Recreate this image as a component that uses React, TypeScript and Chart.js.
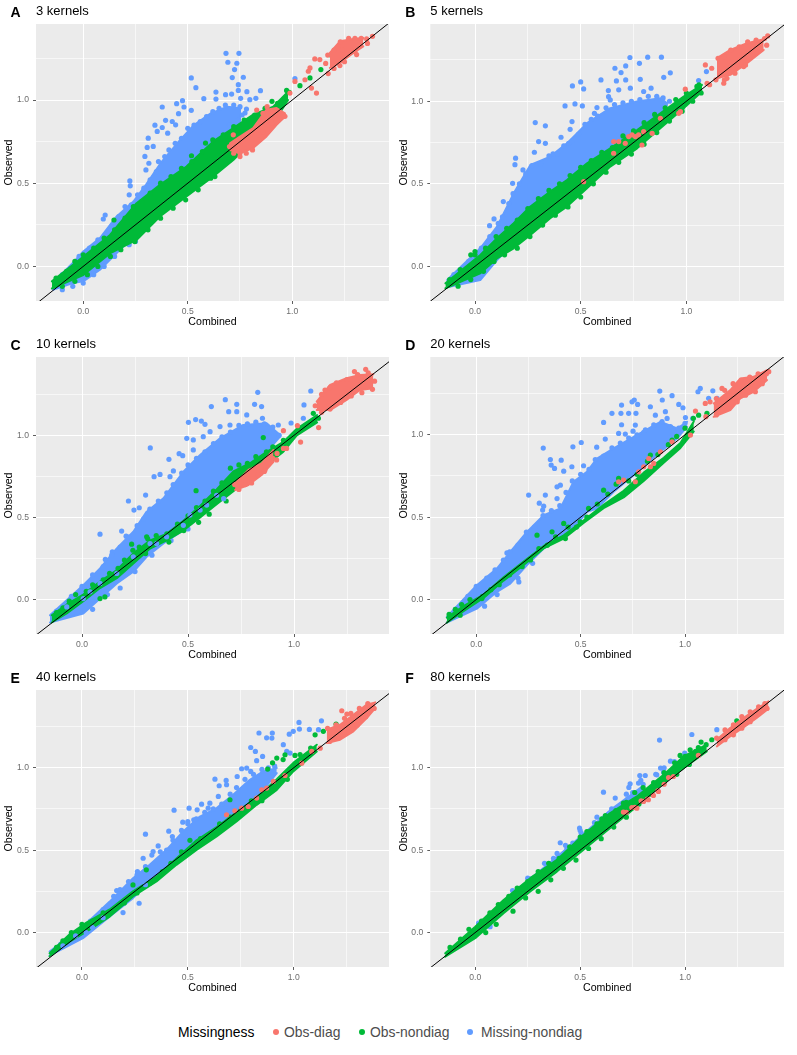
import React, { useEffect, useRef } from "react";
import { Chart, registerables } from "chart.js";

Chart.register(...registerables);

const majorTicks = [0, 0.5, 1];
const minorTicks = [0.25, 0.75, 1.25];
const legendLabels = ["Obs-diag", "Obs-nondiag", "Missing-nondiag"];
const RED = "#F8766D";
const GREEN = "#00BA38";
const BLUE = "#619CFF";

// Dense parts of each cloud: [combined, observed upper edge, observed lower edge]
// Dots: [combined, observed]; "Rim" lists are the dots read along a cloud's edges
const aBlueBand = [[-0.145,-0.1,-0.14],[-0.05,0.02,-0.1],[0,0.09,-0.09],[0.08,0.17,-0.02],[0.16,0.3,0.08],[0.24,0.39,0.18],[0.3,0.49,0.26],[0.37,0.62,0.34],[0.45,0.74,0.43],[0.53,0.85,0.52],[0.61,0.92,0.62],[0.69,0.96,0.7],[0.755,0.95,0.85]];
const aGreenBand = [[-0.15,-0.09,-0.133],[0,0.058,-0.052],[0.128,0.189,0.078],[0.255,0.38,0.159],[0.367,0.49,0.3],[0.494,0.6,0.42],[0.622,0.751,0.54],[0.718,0.831,0.64],[0.813,0.912,0.76],[0.909,0.96,0.861],[0.98,1.05,1.0]];
const aRedBands = [[[0.702,0.739,0.7],[0.75,0.78,0.68],[0.813,0.831,0.711],[0.877,0.942,0.781],[0.925,0.952,0.851],[0.965,0.92,0.9]],[[1.18,1.283,1.193],[1.228,1.353,1.223],[1.292,1.367,1.283],[1.34,1.373,1.323]]];
const aBlue = [[0.683,1.281],[0.745,1.281],[0.692,1.227],[0.735,1.221],[0.724,1.183],[0.713,1.135],[0.766,1.137],[0.517,1.133],[0.539,1.074],[0.742,1.092],[0.742,1.058],[0.783,1.05],[0.848,1.056],[0.635,1.048],[0.681,1.032],[0.71,1.036],[0.635,1.006],[0.577,1.008],[0.797,1.002],[0.826,1.01],[0.753,1.01],[0.475,0.996],[0.447,0.978],[0.378,0.958],[0.482,0.958],[0.517,0.938],[0.456,0.918],[0.394,0.878],[0.426,0.871],[0.343,0.849],[0.442,0.851],[0.378,0.835],[0.354,0.811],[0.404,0.801],[0.311,0.771],[0.335,0.721],[0.306,0.715],[0.295,0.661],[0.314,0.62],[0.3,0.58],[0.223,0.514],[0.225,0.484],[0.22,0.43],[0.105,0.309],[0.096,0.285],[0.781,0.946],[0.774,0.922],[1.013,1.129]];
const aBlueRim = [[-0.1,-0.05],[-0.06,-0.01],[-0.02,0.06],[0.03,0.11],[0.07,0.16],[0.11,0.19],[0.14,0.25],[0.17,0.3],[0.2,0.36],[0.23,0.37],[0.26,0.43],[0.29,0.47],[0.32,0.52],[0.35,0.57],[0.36,0.63],[0.39,0.66],[0.41,0.7],[0.44,0.74],[0.47,0.77],[0.5,0.83],[0.53,0.85],[0.56,0.87],[0.59,0.9],[0.62,0.93],[0.65,0.95],[0.68,0.97],[0.72,0.97],[0.75,0.96],[0.76,0.91],[0.74,0.88],[0.7,0.85],[-0.1,-0.14],[-0.05,-0.12],[0,-0.1],[0.05,-0.05],[0.1,0],[0.15,0.06],[0.22,0.13],[0.25,0.15]];
const aGreen = [[0.147,0.279],[0.518,0.665],[0.585,0.741],[0.903,0.992],[0.973,1.058],[0.986,1.046],[1.037,1.086],[1.085,1.133],[1.137,1.183],[1.191,1.263],[0.247,0.149],[0.63,0.54]];
const aGreenRim = [[-0.13,-0.07],[-0.08,-0.03],[-0.04,0.03],[0,0.07],[0.05,0.11],[0.1,0.17],[0.15,0.22],[0.2,0.29],[0.24,0.36],[0.28,0.39],[0.32,0.44],[0.37,0.5],[0.42,0.54],[0.47,0.59],[0.52,0.63],[0.57,0.69],[0.62,0.76],[0.67,0.79],[0.72,0.84],[0.77,0.88],[0.82,0.91],[0.87,0.95],[0.93,0.98],[-0.1,-0.12],[-0.04,-0.09],[0.02,-0.05],[0.07,0],[0.13,0.06],[0.18,0.1],[0.25,0.17],[0.31,0.22],[0.37,0.29],[0.43,0.35],[0.49,0.4],[0.55,0.46],[0.61,0.53],[0.66,0.6],[0.7,0.64],[0.74,0.72]];
const aRed = [[1.384,1.383],[1.356,1.367],[1.308,1.273],[1.228,1.207],[1.172,1.159],[1.116,1.042],[1.092,1.072],[1.132,1.243],[1.108,1.247],[1.085,1.193],[1.077,1.173],[1.061,1.122],[1.013,1.112],[0.957,0.912],[0.965,0.902],[0.901,0.861],[0.75,0.681],[0.718,0.791],[0.989,1.042]];
const aRedRim = [[0.7,0.72],[0.72,0.68],[0.75,0.66],[0.78,0.68],[0.81,0.7],[0.84,0.76],[0.86,0.81],[0.88,0.85],[0.9,0.88],[0.86,0.92],[0.83,0.94],[0.88,0.96],[1.17,1.27],[1.2,1.3],[1.23,1.35],[1.27,1.37],[1.3,1.37],[1.33,1.37],[1.36,1.34],[1.3,1.29],[1.25,1.23],[1.2,1.19],[1.24,1.3],[1.16,1.22]];

const bBlueBand = [[-0.132,-0.083,-0.127],[0.025,0.109,-0.083],[0.104,0.24,0.038],[0.183,0.442,0.139],[0.262,0.614,0.22],[0.356,0.665,0.321],[0.435,0.745,0.402],[0.53,0.867,0.584],[0.64,0.958,0.705],[0.767,0.998,0.806],[0.877,1.018,0.917],[0.909,0.988,0.978]];
const bGreenBand = [[-0.14,-0.103,-0.133],[0.025,0.069,-0.042],[0.104,0.17,0.048],[0.183,0.261,0.109],[0.262,0.362,0.19],[0.356,0.453,0.291],[0.435,0.523,0.362],[0.53,0.624,0.473],[0.64,0.715,0.604],[0.767,0.826,0.715],[0.877,0.927,0.836],[0.987,1.028,0.958],[1.074,1.099,1.059]];
const bRedBands = [[[1.145,1.261,1.139],[1.208,1.311,1.16],[1.287,1.352,1.23],[1.366,1.376,1.311]]];
const bBlue = [[0.733,1.265],[0.882,1.267],[0.817,1.267],[0.778,1.23],[0.713,1.214],[0.662,1.2],[0.691,1.174],[0.924,1.172],[0.893,1.145],[0.596,1.129],[0.782,1.133],[0.713,1.129],[0.669,1.123],[0.5,1.117],[0.461,1.093],[0.514,1.075],[0.631,1.065],[0.68,1.069],[0.735,1.079],[0.798,1.059],[0.833,1.079],[0.632,1.028],[0.64,1.008],[0.426,0.972],[0.473,0.984],[0.508,0.972],[0.577,0.962],[0.565,0.927],[0.285,0.871],[0.333,0.851],[0.459,0.877],[0.45,0.83],[0.407,0.782],[0.301,0.756],[0.333,0.745],[0.443,0.745],[0.369,0.681],[0.281,0.691],[0.192,0.655],[0.189,0.616],[0.227,0.584],[0.178,0.503],[0.134,0.392],[0.09,0.287],[0.069,0.246],[1.058,1.125],[1.095,1.18]];
const bBlueRim = [[-0.1,-0.05],[-0.03,0.03],[0.03,0.11],[0.07,0.18],[0.11,0.26],[0.13,0.3],[0.16,0.38],[0.18,0.44],[0.21,0.5],[0.24,0.56],[0.27,0.61],[0.31,0.62],[0.35,0.67],[0.39,0.68],[0.42,0.73],[0.46,0.76],[0.49,0.8],[0.52,0.86],[0.55,0.89],[0.58,0.91],[0.62,0.96],[0.66,0.98],[0.7,0.99],[0.74,1],[0.78,1.01],[0.82,1.03],[0.86,1.03],[0.89,1.02],[0.92,1]];
const bGreen = [[0,0.09],[-0.02,0.07],[1.06,1.1],[0.98,0.96]];
const bGreenRim = [[-0.12,-0.08],[-0.07,-0.02],[0,0.07],[0.05,0.11],[0.1,0.18],[0.15,0.23],[0.2,0.28],[0.25,0.35],[0.3,0.41],[0.35,0.46],[0.4,0.5],[0.45,0.55],[0.5,0.6],[0.55,0.64],[0.6,0.69],[0.65,0.72],[0.7,0.79],[0.75,0.82],[0.8,0.87],[0.85,0.92],[0.9,0.96],[0.95,1.01],[1,1.05],[1.05,1.09],[-0.08,-0.12],[-0.02,-0.08],[0.04,-0.03],[0.09,0.03],[0.14,0.07],[0.2,0.11],[0.26,0.18],[0.32,0.25],[0.38,0.31],[0.44,0.36],[0.5,0.42],[0.56,0.5],[0.62,0.57],[0.68,0.63],[0.74,0.68],[0.8,0.74],[0.86,0.81],[0.92,0.88],[0.98,0.94],[1.03,1],[1.07,1.05]];
const bRed = [[0.656,0.756],[0.68,0.756],[0.711,0.745],[0.743,0.796],[0.759,0.786],[0.798,0.816],[0.838,0.806],[0.877,0.897],[0.656,0.685],[0.79,0.735],[0.964,0.927],[0.995,1.073],[0.514,0.513],[1.098,1.109],[1.09,1.22],[1.385,1.396],[1.177,1.109],[1.271,1.21],[1.192,1.139],[0.727,0.786],[0.774,0.796],[0.972,0.937]];
const bRedRim = [[1.12,1.2],[1.15,1.26],[1.18,1.27],[1.21,1.31],[1.25,1.33],[1.29,1.36],[1.33,1.37],[1.37,1.38],[1.38,1.34],[1.33,1.3],[1.28,1.22],[1.23,1.17],[1.18,1.13],[1.14,1.13],[1.11,1.1]];

const cBlueBand = [[-0.151,-0.096,-0.14],[0.006,0.087,-0.085],[0.085,0.189,0.006],[0.164,0.311,0.098],[0.242,0.413,0.169],[0.305,0.535,0.26],[0.384,0.616,0.341],[0.478,0.778,0.423],[0.557,0.88,0.535],[0.651,0.982,0.657],[0.761,1.063,0.799],[0.871,1.073,0.9],[0.934,1.002,0.992]];
const cGreenBand = [[-0.143,-0.096,-0.14],[-0.072,-0.03,-0.085],[0.006,0.03,-0.01],[0.085,0.11,0.07],[0.164,0.18,0.13],[0.242,0.28,0.22],[0.321,0.36,0.31],[0.399,0.4,0.36],[0.478,0.48,0.42],[0.557,0.57,0.5],[0.635,0.67,0.58],[0.714,0.78,0.66],[0.792,0.83,0.75],[0.871,0.9,0.82],[0.95,0.96,0.9],[1.013,1.04,1],[1.109,1.124,1.079]];
const cRedBands = [[[0.722,0.707,0.667],[0.785,0.789,0.697],[0.847,0.829,0.758],[0.903,0.911,0.839]],[[1.107,1.205,1.154],[1.17,1.307,1.154],[1.248,1.348,1.215],[1.311,1.368,1.276],[1.374,1.372,1.287]]];
const cBlue = [[0.829,1.262],[0.676,1.217],[0.73,1.189],[0.61,1.175],[0.814,1.189],[0.847,1.175],[0.692,1.144],[0.73,1.144],[0.777,1.124],[0.536,1.096],[0.502,1.079],[0.563,1.087],[0.58,1.067],[0.651,1.053],[0.604,1.022],[0.698,1.063],[0.572,0.992],[0.494,0.982],[0.525,0.972],[0.322,0.923],[0.458,0.888],[0.475,0.876],[0.41,0.854],[0.525,0.911],[0.368,0.762],[0.34,0.748],[0.431,0.783],[0.415,0.748],[0.219,0.6],[0.3,0.636],[0.245,0.545],[0.27,0.559],[0.085,0.398],[0.11,0.244],[0.143,0.291],[0.187,0.417],[0.208,0.386],[1.079,1.27],[1.047,1.185],[1.044,1.104],[0.986,1.075],[0.851,1.104],[0.855,1.012],[0.926,1.063]];
const cBlueRim = [[-0.12,-0.07],[-0.05,0.02],[0,0.08],[0.05,0.15],[0.1,0.2],[0.14,0.27],[0.18,0.32],[0.22,0.38],[0.26,0.45],[0.29,0.49],[0.32,0.55],[0.36,0.6],[0.4,0.65],[0.43,0.7],[0.47,0.77],[0.5,0.82],[0.54,0.86],[0.58,0.9],[0.62,0.95],[0.66,0.99],[0.7,1.02],[0.74,1.06],[0.78,1.07],[0.82,1.08],[0.86,1.07],[0.9,1.05],[0.93,1],[0.05,-0.06],[0.12,0.03],[0.18,0.07],[0.25,0.17],[0.33,0.27],[0.42,0.36],[0.5,0.43]];
const cGreen = [[0.538,0.663],[0.855,0.986],[0.234,0.337],[1.091,1.134],[1.115,1.104],[0.108,0.016],[0.085,0.006],[0.305,0.382]];
const cGreenRim = [[-0.12,-0.08],[-0.09,-0.05],[-0.06,-0.01],[-0.03,0.03],[0.02,0.05],[0.05,0.09],[0.1,0.12],[0.13,0.16],[0.17,0.19],[0.2,0.24],[0.24,0.3],[0.27,0.32],[0.31,0.37],[0.35,0.39],[0.4,0.4],[0.45,0.46],[0.5,0.51],[0.54,0.56],[0.58,0.6],[0.62,0.66],[0.66,0.71],[0.7,0.8],[0.74,0.82],[0.78,0.83],[0.82,0.87],[0.87,0.9],[0.9,0.93],[0.95,0.97],[0.6,0.52],[0.55,0.47],[0.48,0.42],[0.41,0.35],[0.3,0.28],[0.68,0.6]];
const cRed = [[1.338,1.402],[1.285,1.388],[1.146,1.276],[1.031,0.959],[1.116,1.047],[1.016,1.059],[0.95,1.028],[0.965,0.92],[0.918,0.85],[0.863,0.789]];
const cRedRim = [[0.72,0.7],[0.74,0.67],[0.77,0.7],[0.8,0.71],[0.83,0.76],[0.86,0.78],[0.88,0.83],[0.9,0.86],[0.92,0.89],[0.95,0.92],[1.1,1.18],[1.13,1.25],[1.17,1.29],[1.2,1.32],[1.25,1.34],[1.3,1.37],[1.35,1.38],[1.38,1.33],[1.37,1.28],[1.32,1.26],[1.27,1.24],[1.22,1.2],[1.17,1.16],[1.13,1.14]];
const cBlueTop = [[0.085,0.098],[-0.072,-0.045],[0.006,0.006],[0.242,0.26],[0.321,0.341],[0.399,0.382],[0.557,0.545],[0.635,0.635],[0.352,0.341],[0.478,0.452],[0.509,0.514],[0.588,0.575],[0.164,0.159],[0.038,0.047],[0.668,0.614]];

const dBlueBand = [[-0.141,-0.105,-0.14],[0.003,0.087,-0.055],[0.099,0.188,0.047],[0.163,0.289,0.097],[0.243,0.411,0.209],[0.323,0.512,0.31],[0.403,0.553,0.37],[0.466,0.715,0.431],[0.53,0.775,0.532],[0.578,0.856,0.553],[0.658,0.917,0.654],[0.754,0.988,0.755],[0.882,1.079,0.897],[0.962,1.038,0.978],[1.01,1.079,1.049]];
const dGreenBand = [[-0.141,-0.11,-0.14],[-0.061,-0.04,-0.07],[0.035,0.03,0.01],[0.131,0.135,0.115],[0.227,0.23,0.21],[0.323,0.325,0.31],[0.419,0.39,0.37],[0.514,0.48,0.465],[0.61,0.575,0.555],[0.706,0.66,0.62],[0.802,0.77,0.72],[0.898,0.86,0.83],[0.978,0.95,0.92],[1.042,1.08,1.02]];
const dRedBands = [[[1.137,1.19,1.109],[1.217,1.271,1.15],[1.265,1.342,1.221],[1.329,1.352,1.261],[1.393,1.393,1.332]]];
const dBlue = [[0.879,1.265],[1.073,1.281],[1.062,1.261],[1.133,1.267],[0.938,1.237],[0.891,1.211],[0.757,1.211],[0.746,1.2],[0.773,1.184],[0.696,1.18],[0.834,1.17],[0.97,1.184],[0.99,1.164],[0.65,1.13],[0.693,1.13],[0.73,1.13],[0.765,1.13],[0.858,1.119],[0.906,1.14],[0.914,1.099],[1.002,1.105],[1.037,1.099],[0.61,1.075],[0.696,1.061],[0.762,1.059],[0.682,1.008],[0.714,1.004],[0.751,1.022],[0.802,1.014],[0.618,0.974],[0.463,0.927],[0.503,0.953],[0.321,0.919],[0.577,0.925],[0.355,0.85],[0.407,0.846],[0.359,0.816],[0.375,0.796],[0.458,0.806],[0.419,0.779],[0.514,0.812],[0.251,0.634],[0.331,0.634],[0.302,0.585],[0.323,0.567],[0.318,0.543],[0.147,0.283],[0.204,0.107],[1.113,1.221],[1.153,1.221],[0.387,0.613],[0.403,0.694],[0.387,0.684]];
const dBlueRim = [[-0.1,-0.06],[-0.04,0.02],[0,0.08],[0.05,0.13],[0.09,0.18],[0.13,0.24],[0.16,0.29],[0.2,0.33],[0.24,0.41],[0.28,0.44],[0.32,0.51],[0.36,0.54],[0.4,0.57],[0.43,0.65],[0.46,0.72],[0.5,0.76],[0.54,0.79],[0.57,0.85],[0.61,0.87],[0.65,0.92],[0.69,0.95],[0.73,0.98],[0.77,1],[0.81,1.03],[0.85,1.06],[0.89,1.08],[0.93,1.05],[0.97,1.04],[1,1.07],[0.2,0.13],[0.27,0.22],[0.1,0.03],[0.04,-0.04]];
const dGreen = [[0.538,0.553],[0.291,0.391],[0.363,0.411],[0.419,0.462],[0.498,0.472],[0.427,0.37],[0.61,0.664],[0.682,0.735],[0.834,0.877],[0.938,0.968],[1.065,1.119],[1.105,1.13],[0.027,0.006],[-0.077,-0.095],[0.722,0.654]];
const dGreenRim = [[-0.13,-0.09],[-0.1,-0.06],[-0.07,-0.03],[-0.03,0],[0.03,0.02],[0.07,0.06],[0.11,0.09],[0.16,0.15],[0.22,0.2],[0.26,0.24],[0.3,0.31],[0.34,0.33],[0.38,0.38],[0.44,0.44],[0.48,0.44],[0.53,0.5],[0.58,0.58],[0.63,0.64],[0.67,0.7],[0.73,0.72],[0.77,0.76],[0.82,0.84],[0.87,0.88],[0.92,0.94],[0.96,0.99],[1,1.04],[1.04,1.1],[0.73,0.66],[0.79,0.73]];
const dRed = [[1.177,1.281],[1.097,1.19],[1.05,1.144],[0.682,0.715],[0.778,0.775],[0.826,0.856],[0.85,0.826],[0.882,0.897],[0.938,0.957],[1.026,0.998],[0.762,0.715],[0.706,0.725],[0.802,0.806],[1.401,1.383],[0.834,0.806],[1.337,1.261]];
const dRedRim = [[1.12,1.2],[1.15,1.22],[1.19,1.27],[1.23,1.31],[1.27,1.33],[1.31,1.35],[1.35,1.37],[1.39,1.37],[1.37,1.31],[1.33,1.27],[1.29,1.24],[1.25,1.2],[1.2,1.16],[1.15,1.12],[1.1,1.11]];

const eBlueBand = [[-0.153,-0.115,-0.14],[0.005,0.036,-0.034],[0.131,0.188,0.097],[0.241,0.33,0.209],[0.32,0.411,0.31],[0.399,0.502,0.391],[0.478,0.613,0.472],[0.557,0.704,0.563],[0.636,0.755,0.634],[0.714,0.836,0.715],[0.793,0.927,0.806],[0.856,0.978,0.866],[0.92,0.998,0.968]];
const eGreenBand = [[-0.153,-0.126,-0.144],[-0.058,-0.01,-0.055],[0.021,0.06,0.006],[0.131,0.14,0.097],[0.241,0.25,0.219],[0.352,0.34,0.31],[0.446,0.45,0.411],[0.541,0.56,0.502],[0.636,0.64,0.583],[0.73,0.73,0.674],[0.825,0.82,0.775],[0.92,0.93,0.866],[0.998,1.03,0.978],[1.109,1.14,1.099]];
const eRedBands = [[[1.156,1.231,1.15],[1.219,1.261,1.17],[1.282,1.322,1.221],[1.345,1.383,1.302],[1.385,1.397,1.362]]];
const eBlue = [[0.836,1.211],[1.131,1.285],[1.025,1.275],[1.027,1.235],[0.979,1.204],[0.998,1.221],[1.074,1.233],[0.872,1.182],[0.899,1.211],[0.897,1.18],[1.117,1.231],[0.797,1.123],[0.819,1.099],[0.951,1.14],[0.967,1.099],[0.983,1.089],[0.853,1.069],[0.825,1.043],[0.754,0.994],[0.778,0.998],[0.797,0.978],[0.628,0.931],[0.681,0.923],[0.733,0.947],[0.648,0.891],[0.683,0.897],[0.644,0.826],[0.506,0.755],[0.435,0.743],[0.476,0.67],[0.5,0.674],[0.528,0.684],[0.41,0.615],[0.3,0.597],[0.427,0.583],[0.36,0.526],[0.336,0.492],[0.289,0.451],[0.262,0.37],[0.164,0.255],[0.155,0.213],[0.194,0.121],[0.27,0.178],[0.604,0.785],[0.544,0.745],[0.565,0.779],[0.596,0.755]];
const eBlueRim = [[-0.1,-0.07],[-0.03,0],[0.04,0.07],[0.1,0.14],[0.15,0.22],[0.18,0.26],[0.22,0.31],[0.26,0.35],[0.3,0.4],[0.33,0.47],[0.37,0.49],[0.4,0.5],[0.43,0.56],[0.47,0.62],[0.5,0.66],[0.54,0.69],[0.58,0.73],[0.62,0.75],[0.66,0.78],[0.7,0.84],[0.73,0.88],[0.77,0.93],[0.81,0.96],[0.85,0.99],[0.88,1],[0.91,1.01]];
const eGreen = [[1.101,1.2],[1.2,1.265],[1.14,1.221],[0.92,1.059],[0.959,1.079],[1.006,1.075],[0.699,0.806],[0.877,0.992],[0.304,0.381],[0.241,0.289]];
const eGreenRim = [[-0.12,-0.09],[-0.09,-0.05],[-0.05,0],[0,0.05],[0.05,0.07],[0.1,0.12],[0.15,0.14],[0.2,0.18],[0.26,0.24],[0.32,0.3],[0.38,0.37],[0.42,0.42],[0.47,0.49],[0.51,0.56],[0.56,0.57],[0.6,0.59],[0.65,0.66],[0.7,0.7],[0.75,0.74],[0.8,0.8],[0.85,0.83],[0.9,0.89],[0.94,0.92],[0.98,0.98],[1.02,1.03],[0.9,1.03],[0.95,1.05],[1.03,1.08],[1.08,1.12],[0.97,0.93],[0.85,0.8]];
const eRed = [[0.683,0.715],[0.722,0.739],[0.754,0.755],[0.785,0.765],[0.825,0.816],[0.849,0.866],[0.904,0.917],[0.959,0.953],[1.038,1.028],[1.085,1.099],[1.227,1.346],[1.251,1.326],[1.125,1.119],[0.872,0.877]];
const eRedRim = [[1.16,1.24],[1.2,1.26],[1.24,1.3],[1.27,1.33],[1.31,1.36],[1.35,1.39],[1.38,1.36],[1.34,1.31],[1.3,1.26],[1.26,1.22],[1.21,1.18],[1.17,1.16]];
const eBlueTop = [[-0.03,-0.02],[0.05,0.03],[0.1,0.09],[0.3,0.29],[-0.09,-0.08],[0.02,0]];

const fBlueBand = [[0.1,0.13,0.1],[0.2,0.26,0.2],[0.4,0.47,0.4],[0.5,0.58,0.5],[0.65,0.75,0.65],[0.8,0.89,0.8]];
const fGreenBand = [[-0.143,-0.126,-0.146],[0,0.036,-0.034],[0.135,0.198,0.117],[0.262,0.33,0.249],[0.389,0.441,0.37],[0.516,0.593,0.502],[0.643,0.725,0.634],[0.77,0.826,0.765],[0.897,0.957,0.907],[0.992,1.069,0.998],[1.103,1.14,1.099]];
const fRedBands = [[[1.151,1.17,1.13],[1.214,1.241,1.19],[1.278,1.302,1.245],[1.341,1.358,1.302],[1.397,1.403,1.358]]];
const fBlue = [[0.878,1.168],[1.032,1.202],[1.151,1.231],[0.949,1.038],[0.998,1.089],[0.883,0.998],[0.784,0.953],[0.81,0.953],[0.789,0.923],[0.738,0.903],[0.732,0.881],[0.778,0.907],[0.611,0.852],[0.667,0.816],[0.727,0.812],[0.497,0.634],[0.568,0.668],[0.505,0.603],[0.405,0.545],[0.373,0.451],[0.437,0.512],[0.465,0.543],[0.178,0.255],[0.214,0.269],[0.262,0.326],[0.635,0.719],[0.69,0.765],[0.762,0.826],[0.865,0.957],[0.897,0.974],[0.087,0.097],[0.016,0.057],[0.071,0.036]];
const fBlueRim = [[0.25,0.33],[0.33,0.42],[0.39,0.48],[0.43,0.53],[0.5,0.62],[0.58,0.7],[0.65,0.75],[0.72,0.84],[0.75,0.85],[0.8,0.9],[0.86,0.96],[0.9,1],[0.93,1.04]];
const fGreen = [[1.076,1.156],[1.024,1.109],[0.976,1.075],[1.246,1.285],[0.706,0.785],[0.603,0.69],[0.532,0.613],[1.127,1.17],[1.063,1.123]];
const fGreenRim = [[-0.12,-0.09],[-0.07,-0.04],[-0.03,0.02],[0.03,0.07],[0.07,0.12],[0.11,0.17],[0.16,0.22],[0.2,0.27],[0.25,0.31],[0.3,0.37],[0.35,0.42],[0.4,0.45],[0.45,0.52],[0.5,0.58],[0.54,0.61],[0.58,0.66],[0.62,0.71],[0.67,0.74],[0.72,0.79],[0.76,0.85],[0.8,0.88],[0.85,0.91],[0.9,0.97],[0.95,1.03],[1,1.07],[1.05,1.1],[1.1,1.14],[0.05,0],[0.1,0.05],[0.18,0.13],[0.24,0.21],[0.3,0.25],[0.36,0.32],[0.42,0.39],[0.48,0.44],[0.54,0.51],[0.6,0.57],[0.66,0.64],[0.72,0.7],[0.78,0.78],[0.84,0.84],[0.9,0.91],[0.96,0.96],[1.02,1.02]];
const fRed = [[0.706,0.731],[0.746,0.759],[0.802,0.796],[0.849,0.832],[0.921,0.941],[1.063,1.075],[0.77,0.755],[0.825,0.806],[0.944,0.947],[0.873,0.856]];
const fRedRim = [[1.15,1.18],[1.19,1.23],[1.23,1.26],[1.27,1.31],[1.31,1.34],[1.35,1.37],[1.38,1.39],[1.39,1.36],[1.35,1.33],[1.31,1.28],[1.27,1.24],[1.23,1.2],[1.19,1.17],[0.72,0.73],[0.76,0.76],[0.79,0.8],[0.82,0.81],[0.87,0.86],[0.9,0.9]];

const diagonal = [[-0.3, -0.3], [1.6, 1.6]];

type P = {
  letter: string; title: string; col: number; row: number;
  x: [number, number]; y: [number, number]; box: [number, number, number, number];
  blueBand: number[][]; greenBand: number[][]; redBands: number[][][];
  blue: number[][]; green: number[][]; red: number[][]; top?: number[][];
};

const slotsX = [0, 397, 797];
const slotsY = [0, 334, 667, 1000];

const panels: P[] = [
  { letter: "A", title: "3 kernels", col: 0, row: 0, x: [-0.226, 1.463], y: [-0.208, 1.457], box: [36, 389, 24, 301], blueBand: aBlueBand, greenBand: aGreenBand, redBands: aRedBands, blue: [...aBlue, ...aBlueRim], green: [...aGreen, ...aGreenRim], red: [...aRed, ...aRedRim] },
  { letter: "B", title: "5 kernels", col: 1, row: 0, x: [-0.2115, 1.462], y: [-0.21, 1.468], box: [430.3, 784, 24, 301], blueBand: bBlueBand, greenBand: bGreenBand, redBands: bRedBands, blue: [...bBlue, ...bBlueRim], green: [...bGreen, ...bGreenRim], red: [...bRed, ...bRedRim] },
  { letter: "C", title: "10 kernels", col: 0, row: 1, x: [-0.217, 1.448], y: [-0.21, 1.477], box: [36, 389, 357, 634], blueBand: cBlueBand, greenBand: cGreenBand, redBands: cRedBands, blue: [...cBlue, ...cBlueRim], green: [...cGreen, ...cGreenRim], red: [...cRed, ...cRedRim], top: cBlueTop },
  { letter: "D", title: "20 kernels", col: 1, row: 1, x: [-0.22, 1.474], y: [-0.209, 1.472], box: [430.3, 784, 357, 634], blueBand: dBlueBand, greenBand: dGreenBand, redBands: dRedBands, blue: [...dBlue, ...dBlueRim], green: [...dGreen, ...dGreenRim], red: [...dRed, ...dRedRim] },
  { letter: "E", title: "40 kernels", col: 0, row: 2, x: [-0.217, 1.45], y: [-0.209, 1.472], box: [36, 389, 690, 967], blueBand: eBlueBand, greenBand: eGreenBand, redBands: eRedBands, blue: [...eBlue, ...eBlueRim], green: [...eGreen, ...eGreenRim], red: [...eRed, ...eRedRim], top: eBlueTop },
  { letter: "F", title: "80 kernels", col: 1, row: 2, x: [-0.214, 1.471], y: [-0.209, 1.472], box: [430.3, 784, 690, 967], blueBand: fBlueBand, greenBand: fGreenBand, redBands: fRedBands, blue: [...fBlue, ...fBlueRim], green: [...fGreen, ...fGreenRim], red: [...fRed, ...fRedRim] },
];

const FONT = "'Liberation Sans', Arial, sans-serif";
const isMajor = (v: number) => majorTicks.includes(v);

function dots(points: number[][], color: string) {
  return { type: "scatter", data: points.map(([x, y]) => ({ x, y })), backgroundColor: color, pointRadius: 2.6, pointBorderWidth: 0, showLine: false };
}
function band(rows: number[][], color: string) {
  const base = { type: "line", borderColor: color, backgroundColor: color, borderWidth: 2, pointRadius: 0, tension: 0, borderJoinStyle: "round", borderCapStyle: "round" };
  return [
    { ...base, data: rows.map(([x, hi]) => ({ x, y: hi })), fill: "+1" },
    { ...base, data: rows.map(([x, , lo]) => ({ x, y: lo })), fill: false },
  ];
}

const panelBackground = {
  id: "panelBackground",
  beforeDraw(chart: any) {
    const { ctx, chartArea: a } = chart;
    ctx.save();
    ctx.fillStyle = "#EBEBEB";
    ctx.fillRect(a.left, a.top, a.right - a.left, a.bottom - a.top);
    ctx.restore();
  },
};

function axis(range: [number, number], title: string, padding: any, size: number, dim: "width" | "height", tickPad: number) {
  return {
    type: "linear",
    min: range[0],
    max: range[1],
    afterBuildTicks(s: any) {
      s.ticks = [...majorTicks, ...minorTicks].sort((a, b) => a - b).map((value) => ({ value }));
    },
    afterFit(s: any) {
      s[dim] = size;
    },
    grid: {
      color: (c: any) => (isMajor(c.tick?.value) ? "#FFFFFF" : "rgba(255,255,255,0.6)"),
      lineWidth: 1,
      tickColor: (c: any) => (isMajor(c.tick?.value) ? "#333333" : "rgba(0,0,0,0)"),
      tickLength: 3,
      tickWidth: 0.8,
    },
    border: { display: false },
    ticks: {
      autoSkip: false,
      maxRotation: 0,
      padding: tickPad,
      color: "#6E6E6E",
      font: { family: FONT, size: 8.6 },
      callback: (v: number) => (isMajor(v) ? v.toFixed(1) : ""),
    },
    title: { display: true, text: title, color: "#000000", font: { family: FONT, size: 10.6 }, padding },
  };
}

function Panel({ p }: { p: P }) {
  const ref = useRef<HTMLCanvasElement>(null);
  const sx = slotsX[p.col], ex = slotsX[p.col + 1], sy = slotsY[p.row], ey = slotsY[p.row + 1];
  const [l, r, t, b] = p.box;
  useEffect(() => {
    const layers: any[] = [
      ...band(p.blueBand, BLUE),
      dots(p.blue, BLUE),
      ...band(p.greenBand, GREEN),
      dots(p.green, GREEN),
      ...(p.top ? [dots(p.top, BLUE)] : []),
      ...p.redBands.flatMap((rb) => band(rb, RED)),
      dots(p.red, RED),
      { type: "line", data: diagonal.map(([x, y]) => ({ x, y })), borderColor: "#000000", borderWidth: 1, pointRadius: 0, fill: false },
    ];
    const n = layers.length;
    const chart = new Chart(ref.current as HTMLCanvasElement, {
      type: "scatter",
      data: { datasets: layers.map((d, i) => ({ ...d, order: n - i })) },
      plugins: [panelBackground],
      options: {
        responsive: false,
        animation: false,
        devicePixelRatio: 1,
        layout: { padding: { left: 0, top: t - sy, right: ex - r, bottom: 0 } },
        plugins: { legend: { display: false }, tooltip: { enabled: false }, title: { display: false } },
        scales: {
          x: axis(p.x, "Combined", { top: 0, bottom: 6 }, ey - b, "height", 2),
          y: axis(p.y, "Observed", { top: p.col === 0 ? 3 : 1, bottom: 0 }, l - sx, "width", 4),
        },
      },
    } as any);
    return () => chart.destroy();
  }, []);
  return (
    <>
      <canvas ref={ref} width={ex - sx} height={ey - sy} style={{ position: "absolute", left: sx, top: sy, width: ex - sx, height: ey - sy }} />
      <span style={{ position: "absolute", left: l - (p.col === 0 ? 25.5 : 25), top: t - 20, font: `bold 14px ${FONT}`, color: "#000", lineHeight: "16px" }}>{p.letter}</span>
      <span style={{ position: "absolute", left: l, top: t - 21, font: `13px ${FONT}`, color: "#000", lineHeight: "16px" }}>{p.title}</span>
    </>
  );
}

const legendDots = [276, 362, 470];
const legendTexts = [284, 370, 481];
const legendColors = [RED, GREEN, BLUE];

export default function App() {
  return (
    <div style={{ position: "absolute", left: 0, top: 0, width: 797, height: 1055, background: "#fff", overflow: "hidden" }}>
      {panels.map((p) => <Panel key={p.letter} p={p} />)}
      <span style={{ position: "absolute", left: 178, top: 1024, font: `13.9px ${FONT}`, lineHeight: "16px", color: "#000" }}>Missingness</span>
      {legendLabels.map((label, i) => (
        <React.Fragment key={label}>
          <span style={{ position: "absolute", left: legendDots[i] - 3, top: 1029, width: 6, height: 6, borderRadius: 3, background: legendColors[i] }} />
          <span style={{ position: "absolute", left: legendTexts[i], top: 1024, font: `13.9px ${FONT}`, lineHeight: "16px", color: "#4D4D4D" }}>{label}</span>
        </React.Fragment>
      ))}
    </div>
  );
}
